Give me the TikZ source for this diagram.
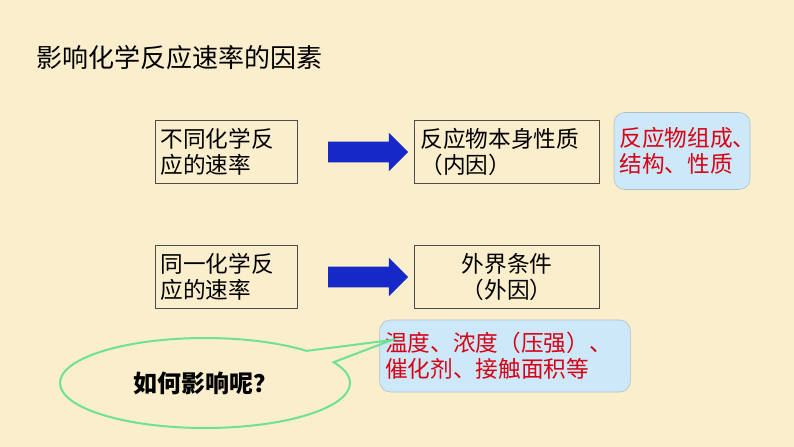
\documentclass[tikz,border=0pt]{standalone}
\usepackage{fontspec}
\setmainfont{Noto Sans CJK SC}
\usepackage{xcolor}
\usetikzlibrary{shapes, arrows, positioning, shapes.geometric, shapes.arrows, shapes.callouts}

\definecolor{paper}{RGB}{250,238,204}
\definecolor{lightblue}{RGB}{205,232,248}
\definecolor{textred}{RGB}{215,0,20}
\definecolor{arrowblue}{RGB}{22,40,200}
\definecolor{bubblegreen}{RGB}{110,225,150}

\tikzset{
  factorbox/.style={draw=black!70, thin, inner sep=4pt, font=\fontsize{17}{19.5}\selectfont, align=left},
  notebox/.style={draw=lightblue!60!gray, fill=lightblue, rounded corners=8pt, text=textred, inner sep=4pt, font=\fontsize{17}{19.5}\selectfont, align=left},
  bigarrow/.style={single arrow, fill=arrowblue, draw=none, inner sep=7.5pt, single arrow head extend=6.75pt, minimum height=60pt}
}

\begin{document}
\begin{tikzpicture}[x=0.75pt, y=-0.75pt]
% Background
\fill[paper] (0,0) rectangle (794,447);
\useasboundingbox (0,0) rectangle (794,447);

% Title
\node[anchor=west, font=\fontsize{19.5}{22}\selectfont] (title) at (32,58) {影响化学反应速率的因素};

% Upper row
\node[factorbox, minimum width=106.5pt, minimum height=47.25pt, text width=98pt] (diff) at (226,152) {不同化学反\\应的速率};
\node[bigarrow] (arrowA) at (363,152) {};
\node[factorbox, minimum width=138.75pt, minimum height=47.25pt, text width=130pt] (inner) at (507,152) {反应物本身性质\\（内因）};
\node[notebox, minimum width=102pt, minimum height=57.75pt, text width=94pt] (innernote) at (682,151) {反应物组成、\\结构、性质};

% Lower row
\node[factorbox, minimum width=106.5pt, minimum height=47.25pt, text width=98pt] (same) at (226,277) {同一化学反\\应的速率};
\node[bigarrow] (arrowB) at (363,277) {};
\node[factorbox, minimum width=138.75pt, minimum height=47.25pt, text width=130pt, align=center] (outer) at (507,277) {外界条件\\（外因）};
\node[notebox, minimum width=187.5pt, minimum height=54pt, text width=180pt] (outernote) at (505,356) {温度、浓度（压强）、\\催化剂、接触面积等};

% Question bubble
\coordinate (tip) at (392,340);
\node[ellipse callout, draw=bubblegreen, line width=1.5pt, minimum width=217.5pt, minimum height=67.5pt,
      callout absolute pointer=(tip), callout pointer arc=18,
      font=\fontsize{18}{20}\selectfont\bfseries] (ask) at (205,383) {如何影响呢？};
\end{tikzpicture}
\end{document}
